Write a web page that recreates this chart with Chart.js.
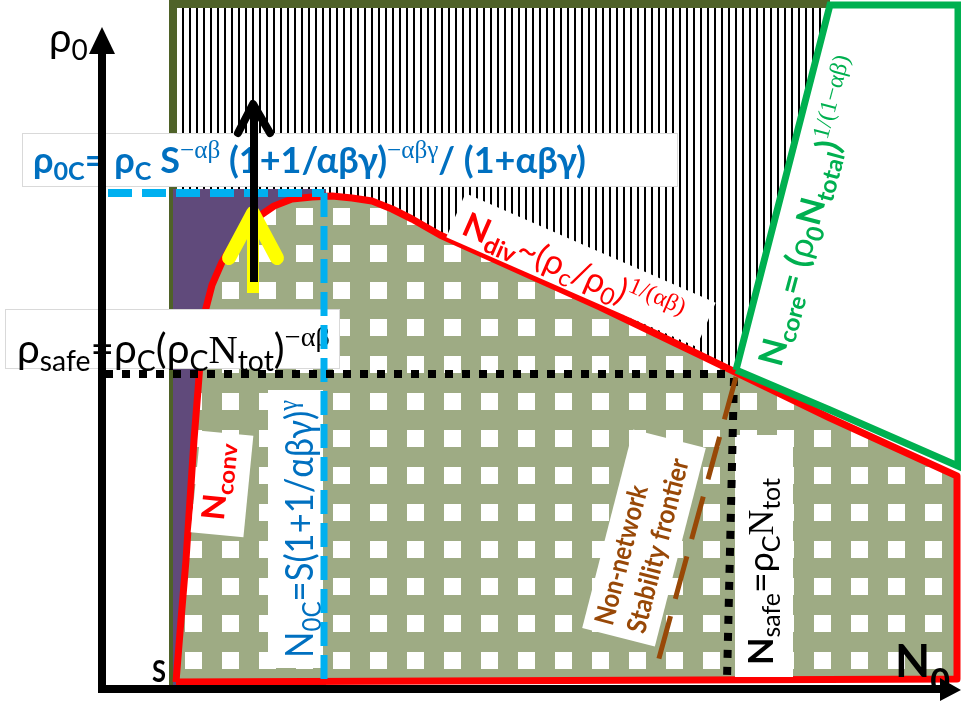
<!DOCTYPE html>
<html>
<head>
<meta charset="utf-8">
<script src="https://cdn.jsdelivr.net/npm/chart.js@4.4.1/dist/chart.umd.min.js"></script>
<style>
html,body{margin:0;padding:0;background:#fff;overflow:hidden}
#wrap{width:961px;height:704px;position:relative}
canvas{display:block}
</style>
</head>
<body>
<div id="wrap"><canvas id="c" width="961" height="704" style="width:961px;height:704px"></canvas></div>
<script>
// Diagram coordinates: N0 along the horizontal axis, rho0 along the vertical axis (arbitrary units, origin at the axes' corner)
const stripedZone    = [[71,684],[728,684],[631,316],[71,316]];
const stripedBorder  = [[71,3],[71,685],[728,685]];
const convergentZone = [[71,500],[224,500],[224,3],[71,3]];
const stableZone     = [[74,7],[79,69],[84,129],[88,189],[92,249],[96,299],[99,339],[103,377],[110,404],[120,427],[131,445],[143,460],[156,472],[172,483],[190,490],[210,492],[230,493],[250,491],[270,488],[290,480],[310,470],[338,454],[398,427],[498,382],[598,334],[631,318],[728,271],[855,213],[855,10],[74,7]];
const coreZone       = [[634,319],[728,684],[856,684],[856,223],[728,279],[634,319]];
const rho0cLine      = [[6,496],[222,496]];
const n0cLine        = [[222,496],[222,0]];
const rhoSafeLine    = [[3,315],[631,315]];
const nSafeLine      = [[632,311],[625,9]];
const frontierLine   = [[634,312],[556,27]];
const yellowStem     = [[151,396],[151,474]];
const yellowHead     = [[127,431],[151,476],[175,431]];
const blackStem      = [[152,407],[152,582]];
const blackHead      = [[136,556],[151,585],[168,556]];
const rhoAxis        = [[0,-4],[0,639]];
const rhoAxisHead    = [[0,662],[-13,635],[13,635],[0,662]];
const nAxis          = [[-4,0],[840,0]];
const nAxisHead      = [[859,-1],[838,11],[838,-12],[859,-1]];

// Label texts ([text, kind n|b(sub)|p(sup), weight, family s=serif])
const labelDefs = [
  {at:[-53,637], angle:0, color:'#000', size:40, weight:'normal',
   lines:[{dx:0,dy:0,parts:[['ρ'],['0','b']]}]},
  {at:[248,529], angle:0, box:[656,54], edge:true, color:'#0070C0', size:36, weight:'bold',
   lines:[{dx:11,dy:40,fit:553,parts:[['ρ'],['0C','b'],['= ρ'],['C','b'],[' S'],['−αβ','p','normal','s'],[' (1+1/αβγ)'],['−αβγ','p','normal','s'],['/ (1+αβγ)']]}]},
  {at:[70.5,350], angle:0, box:[335,60], edge:true, color:'#000', size:40, weight:'normal',
   lines:[{dx:12,dy:54,fit:313,parts:[['ρ'],['safe','b'],['=ρ'],['C','b'],['(ρ'],['C','b'],['N','n','normal','s'],['tot','b'],[')'],['−αβ','p','normal','s']]}]},
  {at:[479,419], angle:23.6, box:[273,48], color:'#FF0000', size:34, weight:'normal',
   lines:[{dx:11,dy:39,fit:236,parts:[['N','n','bold'],['div','b','bold'],['~(ρ'],['c','b'],['/ρ'],['0','b'],[')'],['1/(αβ)','p','normal','s']]}]},
  {at:[679,321], angle:-75, color:'#00B050', size:34, weight:'bold',
   lines:[{dx:0,dy:0,fit:318,parts:[['N'],['core','b'],['= ('],['ρ','n','normal'],['0','b'],['N'],['total','b'],[')'],['1/(1−αβ)','p','normal','s']]}]},
  {at:[120,205], angle:-84.4, box:[102,53], color:'#FF0000', size:32, weight:'bold',
   lines:[{dx:14,dy:32,fit:78,parts:[['N'],['conv','b']]}]},
  {at:[193.5,160], angle:-90, box:[278,55], color:'#0070C0', size:38, weight:'normal',
   lines:[{dx:10,dy:45,fit:258,parts:[['N'],['0C','b'],['=S(1+1/αβγ)'],['γ','p','normal','s']]}]},
  {at:[542,151], angle:-75.6, box:[205,75], color:'#984807', size:27, weight:'bold',
   lines:[{dx:9,dy:29,fit:143,parts:[['Non-network']]},{dx:9,dy:62,fit:179,parts:[['Stability frontier']]}]},
  {at:[662,133], angle:-90, box:[242,58], color:'#000', size:35, weight:'normal',
   lines:[{dx:12,dy:38,fit:187,parts:[['N','n','bold'],['safe','b'],['=ρ'],['C','b'],['N','n','normal','s'],['tot','b']]}]},
  {at:[50,7], angle:0, color:'#000', size:30, weight:'bold',
   lines:[{dx:0,dy:0,fit:14,parts:[['S']]}]},
  {at:[793,12], angle:0, color:'#000', size:46, weight:'bold', small:0.75, subDy:0.34,
   lines:[{dx:0,dy:0,fit:55,parts:[['N'],['0','b']]}]}
];

const SANS = 'Lato, "Open Sans", "Noto Sans", sans-serif';
const SERIF = '"Liberation Serif", "DejaVu Serif", serif';

function makePattern(w, h, draw) {
  const c = document.createElement('canvas');
  c.width = w; c.height = h;
  const g = c.getContext('2d');
  draw(g);
  return document.getElementById('c').getContext('2d').createPattern(c, 'repeat');
}
const stripePattern = makePattern(7, 1, g => {
  g.fillStyle = '#fff'; g.fillRect(0,0,7,1);
  g.fillStyle = '#000'; g.fillRect(0,0,2,1);
});
const squaresPattern = makePattern(37, 37, g => {
  g.fillStyle = '#9EAB84'; g.fillRect(0,0,37,37);
  g.fillStyle = '#fff'; g.fillRect(0,23,17,14); g.fillRect(0,0,17,3);
});

const pts = a => a.map(([x,y]) => ({x, y}));
const NONE = 'rgba(0,0,0,0)';
function ds(points, o) {
  return Object.assign({
    data: pts(points), showLine: true, pointRadius: 0, pointHoverRadius: 0,
    tension: 0, fill: false, borderWidth: 1, borderColor: NONE, backgroundColor: NONE,
    borderCapStyle: 'butt', borderJoinStyle: 'miter'
  }, o);
}

const datasets = [
  ds(stripedZone,    {fill:'shape', backgroundColor: stripePattern}),
  ds(stripedBorder,  {borderColor:'#4F6228', borderWidth:8}),
  ds(convergentZone, {fill:'shape', backgroundColor:'#604A7B'}),
  ds(stableZone,     {fill:'shape', backgroundColor: squaresPattern, borderColor:'#FF0000', borderWidth:7, borderJoinStyle:'round'}),
  ds(coreZone,       {borderColor:'#00B050', borderWidth:7}),
  ds(rho0cLine,      {borderColor:'#00B0F0', borderWidth:8, borderDash:[24,10]}),
  ds(n0cLine,        {borderColor:'#00B0F0', borderWidth:7, borderDash:[24,9]}),
  ds(rhoSafeLine,    {borderColor:'#000', borderWidth:8, borderDash:[8,9]}),
  ds(nSafeLine,      {borderColor:'#000', borderWidth:8, borderDash:[8,9]}),
  ds(frontierLine,   {borderColor:'#984807', borderWidth:5, borderDash:[44,18]}),
  ds(yellowStem,     {borderColor:'#FFFF00', borderWidth:12}),
  ds(yellowHead,     {borderColor:'#FFFF00', borderWidth:14, borderCapStyle:'round', borderJoinStyle:'round'}),
  ds(blackStem,      {borderColor:'#000', borderWidth:8}),
  ds(blackHead,      {borderColor:'#000', borderWidth:8, borderCapStyle:'round', borderJoinStyle:'round'}),
  ds(rhoAxis,        {borderColor:'#000', borderWidth:8}),
  ds(rhoAxisHead,    {fill:'shape', backgroundColor:'#000'}),
  ds(nAxis,          {borderColor:'#000', borderWidth:8}),
  ds(nAxisHead,      {fill:'shape', backgroundColor:'#000'})
];
datasets.forEach((d, i) => { d.order = -i; });
const LABELS_AFTER = 4;

function partFont(p, L, size) {
  const kind = p[1] || 'n';
  const s = kind === 'n' ? size : size * (L.small || 0.7);
  const w = p[2] || L.weight || 'normal';
  const fam = p[3] === 's' ? SERIF : SANS;
  return w + ' ' + s.toFixed(2) + 'px ' + fam;
}
function drawRich(ctx, L, line) {
  const size = L.size;
  const total = line.parts.reduce((acc, p) => { ctx.font = partFont(p, L, size); return acc + ctx.measureText(p[0]).width; }, 0);
  if (line.fit) ctx.scale(line.fit / total, 1);
  let x = 0;
  for (const p of line.parts) {
    const kind = p[1] || 'n';
    ctx.font = partFont(p, L, size);
    const dy = kind === 'b' ? size * (L.subDy || 0.2) : kind === 'p' ? -size * (L.supDy || 0.42) : 0;
    ctx.fillText(p[0], x, dy);
    x += ctx.measureText(p[0]).width;
  }
}
const labelPlugin = {
  id: 'diagramLabels',
  afterDatasetDraw(chart, args) {
    if (args.index !== LABELS_AFTER) return;
    const ctx = chart.ctx, xs = chart.scales.x, ys = chart.scales.y;
    for (const L of labelDefs) {
      const cx = xs.getPixelForValue(L.at[0]), cy = ys.getPixelForValue(L.at[1]);
      ctx.save();
      ctx.translate(cx, cy);
      ctx.rotate(L.angle * Math.PI / 180);
      let ox = 0, oy = 0;
      if (L.box) {
        const [w, h] = L.box;
        ox = -w / 2; oy = -h / 2;
        ctx.fillStyle = '#fff';
        ctx.fillRect(ox, oy, w, h);
        if (L.edge) { ctx.strokeStyle = '#d9d9d9'; ctx.lineWidth = 1; ctx.strokeRect(ox + 0.5, oy + 0.5, w - 1, h - 1); }
      }
      ctx.fillStyle = L.color;
      ctx.textAlign = 'left';
      ctx.textBaseline = 'alphabetic';
      for (const line of L.lines) {
        ctx.save();
        ctx.translate(ox + line.dx, oy + line.dy);
        drawRich(ctx, L, line);
        ctx.restore();
      }
      ctx.restore();
    }
  }
};

new Chart(document.getElementById('c'), {
  type: 'scatter',
  data: { datasets },
  options: {
    responsive: false,
    animation: false,
    events: [],
    layout: { padding: 0 },
    plugins: { legend: { display: false }, tooltip: { enabled: false }, filler: { propagate: false } },
    scales: {
      x: { type: 'linear', min: -102, max: 859, display: false },
      y: { type: 'linear', min: -15, max: 689, display: false }
    }
  },
  plugins: [labelPlugin]
});
</script>
</body>
</html>
